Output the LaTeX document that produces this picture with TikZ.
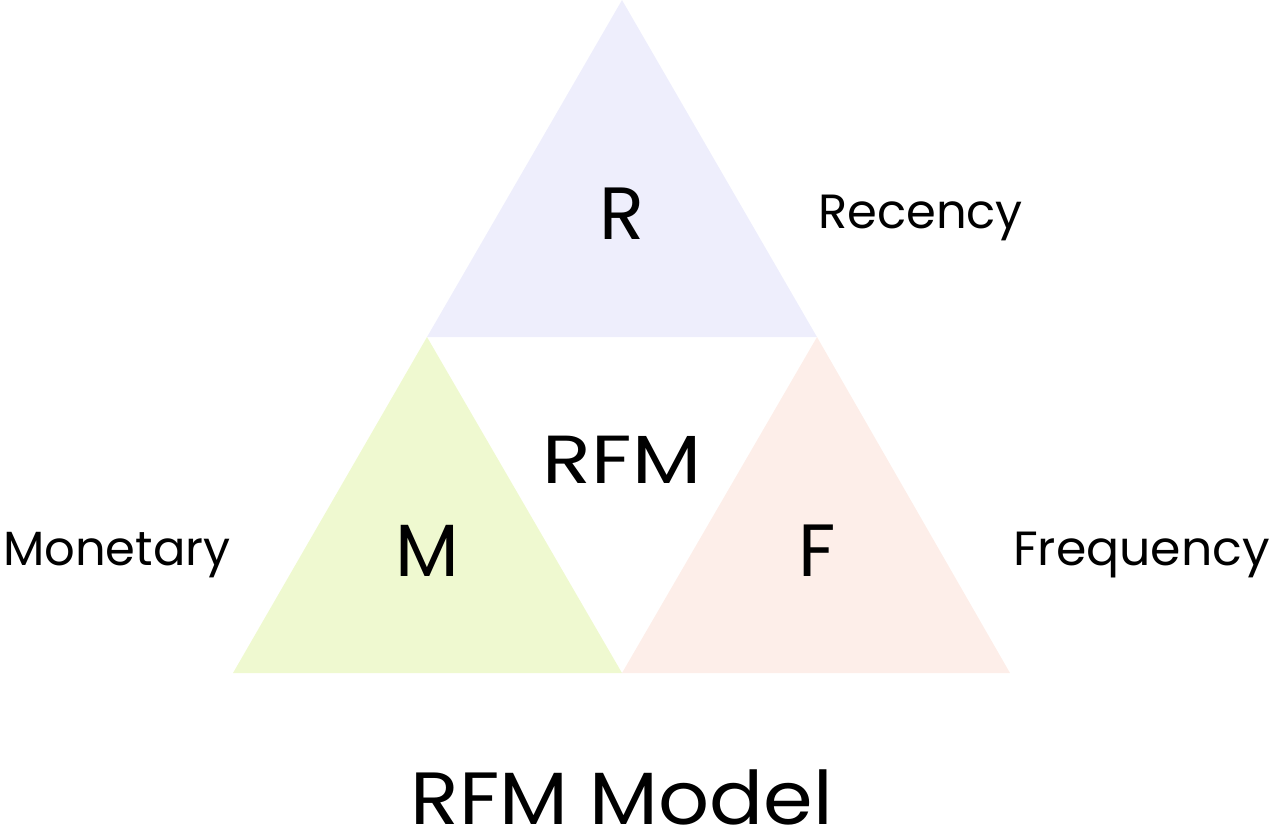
\documentclass[tikz,border=0pt]{standalone}
\usepackage{fontspec}
\setmainfont{Poppins}
\definecolor{rcol}{HTML}{EEEEFC}
\definecolor{mcol}{HTML}{EFF9D0}
\definecolor{fcol}{HTML}{FDEEE9}
\begin{document}
\begin{tikzpicture}[x=1pt,y=-1pt,
  big/.style={inner sep=0pt,anchor=base,font=\fontsize{74}{74}\selectfont},
  mid/.style={inner sep=0pt,anchor=base,font=\fontsize{68}{68}\selectfont},
  lab/.style={inner sep=0pt,anchor=base west,font=\fontsize{48}{48}\selectfont}]
\useasboundingbox (0,0) rectangle (1275,830);
\fill[rcol] (622,0) -- (817,337) -- (427,337) -- cycle;
\fill[mcol] (427,337) -- (622,673) -- (233,673) -- cycle;
\fill[fcol] (817,337) -- (1010,673) -- (622,673) -- cycle;
\node[big] (r) at (622,239) {R};
\node[big] (m) at (427,576) {M};
\node[big] (f) at (817,576) {F};
\node[mid] (rfm) at (622,483) {\scalebox{1.18}[1]{RFM}};
\node[big] (title) at (622,824) {\scalebox{1.08}[1]{RFM Model}};
\node[lab] (rec) at (818,228) {Recency};
\node[lab] (mon) at (3,565) {Monetary};
\node[lab] (fre) at (1013,565) {\scalebox{1.02}[1]{Frequency}};
\end{tikzpicture}
\end{document}
